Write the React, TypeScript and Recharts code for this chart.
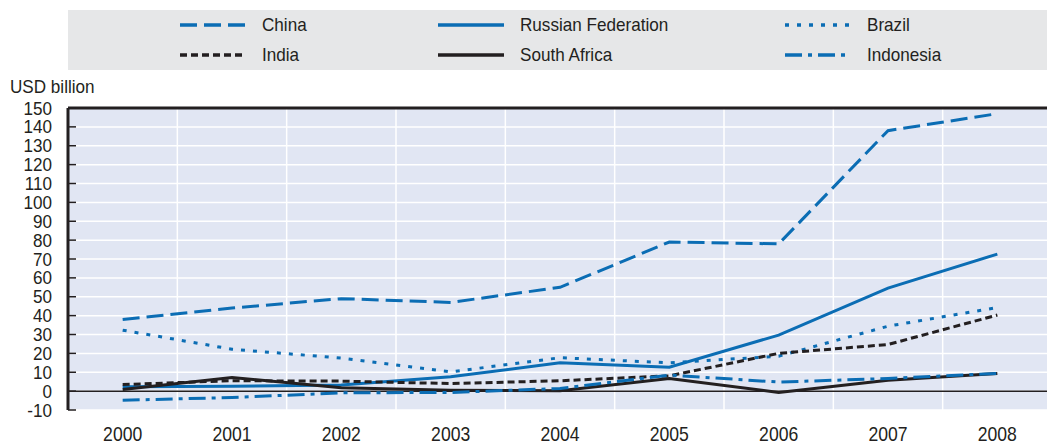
import {
  LineChart,
  Line,
  XAxis,
  YAxis,
  CartesianGrid,
  ReferenceLine,
  Legend,
} from "recharts";

const years = [2000, 2001, 2002, 2003, 2004, 2005, 2006, 2007, 2008];
const china = [38, 44, 49, 47, 55, 79, 78, 138, 147];
const russia = [2.3, 2.6, 3.2, 7.6, 15, 12.7, 29.7, 54.6, 72.6];
const brazil = [32.3, 22.2, 17.5, 10.2, 17.7, 15, 18.5, 34.4, 44.3];
const india = [3.5, 5.5, 5.3, 4, 5.5, 8.1, 20, 24.7, 40.3];
const southAfrica = [0.9, 7.2, 1.8, 0.5, 0.2, 6.7, -0.7, 5.8, 9.4];
const indonesia = [-4.8, -3.4, -0.9, -0.7, 1.4, 8.5, 4.8, 6.7, 9.4];

const yTicks = [-10, 0, 10, 20, 30, 40, 50, 60, 70, 80, 90, 100, 110, 120, 130, 140, 150];
// year boundaries, where the white grid lines and the small x ticks sit
const yearBounds = [2000.5, 2001.5, 2002.5, 2003.5, 2004.5, 2005.5, 2006.5, 2007.5];

const data = years.map((year, i) => ({
  year,
  china: china[i],
  russia: russia[i],
  brazil: brazil[i],
  india: india[i],
  southAfrica: southAfrica[i],
  indonesia: indonesia[i],
}));

const BLUE = "#0b6db4";
const DARK = "#231f20";
// no condensed font installed, so Liberation Sans gets squeezed horizontally
const FONT = "'Liberation Sans', Arial, sans-serif";

const series = [
  { key: "china", name: "China", color: BLUE, dash: "17 7" },
  { key: "russia", name: "Russian Federation", color: BLUE, dash: undefined },
  { key: "brazil", name: "Brazil", color: BLUE, dash: "4 8" },
  { key: "india", name: "India", color: DARK, dash: "7 4" },
  { key: "southAfrica", name: "South Africa", color: DARK, dash: undefined },
  { key: "indonesia", name: "Indonesia", color: BLUE, dash: "17 6 4 6" },
];

// legend columns: sample start (relative to the grey box)
const legendCols = [112, 370, 717];
const legendRows = [15, 45];

function Narrow({ children, style }: any) {
  return (
    <span
      style={{
        display: "inline-block",
        fontFamily: FONT,
        fontSize: 19,
        lineHeight: "22px",
        color: DARK,
        whiteSpace: "nowrap",
        transform: "scaleX(0.9)",
        transformOrigin: "left center",
        ...style,
      }}
    >
      {children}
    </span>
  );
}

function LegendBox() {
  return (
    <div style={{ position: "relative", width: "100%", height: 60, background: "#e6e7e8" }}>
      {series.map((s, i) => {
        const left = legendCols[i % 3];
        const top = legendRows[Math.floor(i / 3)];
        return (
          <div key={s.key}>
            <svg
              width={66}
              height={6}
              style={{ position: "absolute", left, top: top - 3 }}
            >
              <line
                x1={0}
                x2={66}
                y1={3}
                y2={3}
                stroke={s.color}
                strokeWidth={3.5}
                strokeDasharray={s.dash}
              />
            </svg>
            <Narrow style={{ position: "absolute", left: left + 82, top: top - 11 }}>
              {s.name}
            </Narrow>
          </div>
        );
      })}
    </div>
  );
}

function YTick(props: any) {
  const { x, y, payload } = props;
  return (
    <g>
      <line x1={x} x2={x + 8} y1={y} y2={y} stroke={DARK} strokeWidth={1.5} />
      <text
        transform={`translate(${x - 16},${y + 6.5}) scale(0.95,1)`}
        textAnchor="end"
        fontFamily={FONT}
        fontSize={18}
        fill={DARK}
      >
        {payload.value}
      </text>
    </g>
  );
}

function YearTick(props: any) {
  const { x, y, payload } = props;
  return (
    <text
      transform={`translate(${x},${y + 31}) scale(0.88,1)`}
      textAnchor="middle"
      fontFamily={FONT}
      fontSize={20}
      fill={DARK}
    >
      {payload.value}
    </text>
  );
}

function BoundTick(props: any) {
  const { x, y } = props;
  return <line x1={x} x2={x} y1={y} y2={y - 8} stroke={DARK} strokeWidth={1.5} />;
}

export default function App() {
  return (
    <div
      style={{
        position: "fixed",
        left: 0,
        top: 0,
        width: 1047,
        height: 444,
        overflow: "hidden",
        background: "#fff",
      }}
    >
      <Narrow style={{ position: "absolute", left: 10, top: 76 }}>USD billion</Narrow>
      <LineChart
        width={1060}
        height={444}
        data={data}
        margin={{ top: 108, right: 8, bottom: 0, left: 0 }}
      >
        <XAxis
          xAxisId="band"
          dataKey="year"
          type="number"
          domain={[1999.5, 2008.5]}
          ticks={yearBounds}
          interval={0}
          height={0}
          tickSize={0}
          tickMargin={0}
          tick={<BoundTick />}
          tickLine={false}
          axisLine={{ stroke: DARK, strokeWidth: 3 }}
        />
        <XAxis
          xAxisId="year"
          dataKey="year"
          type="number"
          domain={[1999.5, 2008.5]}
          ticks={years}
          interval={0}
          height={34}
          tickSize={0}
          tickMargin={0}
          tick={<YearTick />}
          tickLine={false}
          axisLine={false}
        />
        <YAxis
          type="number"
          domain={[-10, 150]}
          ticks={yTicks}
          interval={0}
          width={68}
          tickSize={0}
          tickMargin={0}
          tick={<YTick />}
          tickLine={false}
          axisLine={{ stroke: DARK, strokeWidth: 3 }}
        />
        <CartesianGrid xAxisId="band" fill="#e1e6f3" stroke="#ffffff" strokeWidth={1.5} />
        <ReferenceLine xAxisId="year" y={0} stroke={DARK} strokeWidth={1.5} />
        <ReferenceLine xAxisId="year" y={150} stroke={DARK} strokeWidth={3} />
        <Legend
          layout="horizontal"
          verticalAlign="middle"
          align="center"
          content={<LegendBox />}
          wrapperStyle={{ top: 10, left: 68, width: 992, height: 60 }}
        />
        {series.map((s) => (
          <Line
            key={s.key}
            xAxisId="year"
            type="linear"
            dataKey={s.key}
            name={s.name}
            stroke={s.color}
            strokeWidth={3}
            strokeDasharray={s.dash}
            dot={false}
            activeDot={false}
            isAnimationActive={false}
          />
        ))}
      </LineChart>
    </div>
  );
}
